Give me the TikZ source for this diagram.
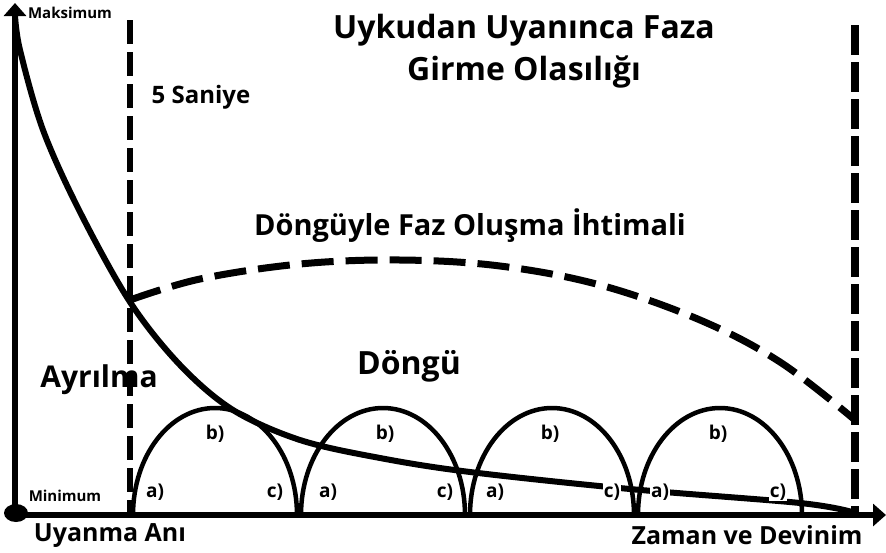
\documentclass[tikz,border=0pt]{standalone}
\usepackage{fontspec}
\setmainfont{Open Sans}
\usetikzlibrary{arrows.meta, positioning, shapes.geometric}
\tikzstyle{axis} = [line width=6.5pt, -{Triangle[length=13pt, width=22pt]}]
\tikzstyle{arch} = [line width=4.5pt]
\tikzstyle{tag} = [fill=white, inner sep=1pt, font=\fontsize{19}{21}\selectfont\bfseries]

\begin{document}
\begin{tikzpicture}[
        x=1pt, y=-1pt,
        bigtxt/.style={font=\fontsize{29}{34}\selectfont\bfseries, align=center},
        smalltxt/.style={font=\fontsize{15}{17}\selectfont\bfseries},
        marker/.style={line width=6pt, dash pattern=on 24pt off 8pt},
        chance/.style={line width=7pt, dash pattern=on 32pt off 12pt},
    ]
    \useasboundingbox (0,0) rectangle (886,552);

    % axes
    \node[ellipse, fill=black, inner sep=0pt, minimum width=24pt, minimum height=18pt] (origin) at (16,513) {};
    \coordinate (ytop) at (15,3);
    \coordinate (xend) at (886,515);
    \draw[axis] (15,515) -- (ytop);
    \draw[axis] (15,515) -- (xend);

    % time markers
    \coordinate (m1top) at (130,20);
    \coordinate (m1bot) at (130,515);
    \coordinate (m2top) at (855,25);
    \coordinate (m2bot) at (855,515);
    \draw[marker] (m1top) -- (m1bot);
    \draw[marker, line width=8pt, dash pattern=on 30pt off 7pt] (m2top) -- (m2bot);

    % cycles
    \foreach \cx in {215,383,552,720}
        \draw[arch] (\cx-82,515) arc[start angle=180, end angle=360, x radius=82, y radius=107];

    % falling chance
    \draw[line width=6pt] plot[smooth, tension=0.55] coordinates {
        (15,15) (20,50) (43,130) (80,212) (130,302) (180,365) (233,410)
        (300,440) (380,458) (470,472) (630,489) (800,503) (852,512)};

    % cycle chance
    \draw[chance] plot[smooth, tension=0.6] coordinates {
        (130,300) (200,279) (300,264) (400,260) (500,266) (600,285)
        (700,320) (780,362) (855,420)};

    % labels
    \node[bigtxt, font=\fontsize{32}{42}\selectfont\bfseries] (title) at (524,51) {Uykudan Uyanınca Faza\\Girme Olasılığı};
    \node[font=\fontsize{24}{28}\selectfont\bfseries] (sec) at (201,97) {5 Saniye};
    \node[bigtxt] (cyc) at (470,226) {Döngüyle Faz Oluşma İhtimali};
    \node[bigtxt, font=\fontsize{30}{34}\selectfont\bfseries] (sep) at (99,380) {Ayrılma};
    \node[bigtxt, font=\fontsize{32}{36}\selectfont\bfseries] (loop) at (409,366) {Döngü};
    \node[smalltxt] (max) at (70,13) {Maksimum};
    \node[smalltxt] (min) at (65,496) {Minimum};
    \node[font=\fontsize{25}{28}\selectfont\bfseries] (wake) at (110,536) {Uyanma Anı};
    \node[font=\fontsize{25}{28}\selectfont\bfseries] (time) at (747,535) {Zaman ve Devinim};

    \foreach \ax/\cx/\bx [count=\i] in {155/275/215, 328/445/385, 495/612/550, 660/778/718} {
        \node[tag] (a\i) at (\ax,492) {a)};
        \node[tag] (c\i) at (\cx,492) {c)};
        \node[tag] (b\i) at (\bx,434) {b)};
    }
\end{tikzpicture}
\end{document}
